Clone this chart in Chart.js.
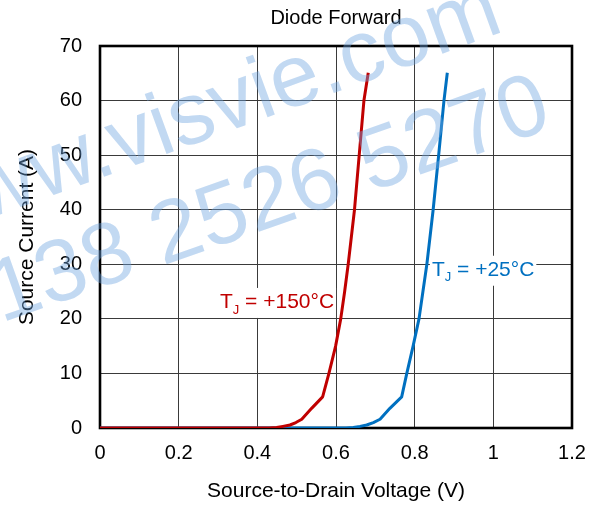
<!DOCTYPE html>
<html><head><meta charset="utf-8">
<script src="https://cdn.jsdelivr.net/npm/chart.js@4/dist/chart.umd.min.js"></script>
<style>html,body{margin:0;padding:0;background:#fff}#wrap{width:600px;height:508px;position:relative}</style>
</head><body><div id="wrap"><canvas id="c" width="600" height="508"></canvas></div>
<script>
const voltage150 = [0, 0.40, 0.430, 0.449, 0.465, 0.483, 0.498, 0.513, 0.538, 0.566, 0.582, 0.599, 0.612, 0.622, 0.631, 0.647, 0.659, 0.671, 0.682];
const current150 = [0, 0, 0.02, 0.1, 0.3, 0.55, 1.0, 1.6, 3.6, 5.7, 10, 15, 20, 25, 30, 40, 50, 60, 65.1];
const voltage25 = [0, 0.60, 0.625, 0.644, 0.661, 0.678, 0.695, 0.712, 0.737, 0.767, 0.780, 0.796, 0.811, 0.821, 0.831, 0.847, 0.861, 0.8745, 0.883];
const current25 = [0, 0, 0.02, 0.1, 0.3, 0.55, 1.0, 1.6, 3.6, 5.7, 10, 15, 20, 25, 30, 40, 50, 60, 65.1];
const xTicks = [0, 0.2, 0.4, 0.6, 0.8, 1, 1.2];
const yTicks = [0, 10, 20, 30, 40, 50, 60, 70];
const chartTitle = 'Diode Forward';
const xTitle = 'Source-to-Drain Voltage (V)';
const yTitle = 'Source Current (A)';
const label150 = ['T', 'J', ' = +150°C'];
const label25 = ['T', 'J', ' = +25°C'];
const watermark = ['www.visvie.com', '138 2526 5270'];

const FONT = "'Liberation Sans', Arial, sans-serif";
const RED = '#C00000', BLUE = '#0070C0';

function pts(xs, ys) { return xs.map((x, i) => ({x, y: ys[i]})); }

function drawLabel(ctx, parts, cx, cy, color) {
  ctx.save();
  const big = '21px ' + FONT, small = '13px ' + FONT;
  ctx.font = big; const w1 = ctx.measureText(parts[0]).width;
  ctx.font = small; const w2 = ctx.measureText(parts[1]).width;
  ctx.font = big; const w3 = ctx.measureText(parts[2]).width;
  const w = w1 + w2 + w3;
  let x = cx - w / 2;
  ctx.fillStyle = '#fff';
  ctx.fillRect(x - 2, cy - 14, w + 4, 30);
  ctx.fillStyle = color;
  ctx.textBaseline = 'middle';
  ctx.textAlign = 'left';
  ctx.font = big; ctx.fillText(parts[0], x, cy); x += w1;
  ctx.font = small; ctx.fillText(parts[1], x, cy + 8); x += w2;
  ctx.font = big; ctx.fillText(parts[2], x, cy);
  ctx.restore();
}

const deco = {
  id: 'deco',
  beforeDatasetsDraw(chart) {
    const ctx = chart.ctx, a = chart.chartArea;
    const xs = chart.scales.x, ys = chart.scales.y;
    ctx.save();
    ctx.strokeStyle = '#000';
    ctx.lineWidth = 2.6;
    ctx.strokeRect(a.left, a.top, a.right - a.left, a.bottom - a.top);
    ctx.restore();
    drawLabel(ctx, label150, xs.getPixelForValue(0.45), ys.getPixelForValue(23.1), RED);
    drawLabel(ctx, label25, xs.getPixelForValue(0.974), ys.getPixelForValue(29.0), BLUE);
  },
  afterDraw(chart) {
    const ctx = chart.ctx, a = chart.chartArea;
    ctx.save();
    ctx.fillStyle = '#000';
    ctx.font = '20px ' + FONT;
    ctx.textAlign = 'center';
    ctx.textBaseline = 'middle';
    ctx.fillText(chartTitle, (a.left + a.right) / 2, 18);
    ctx.restore();
    // watermark
    ctx.save();
    ctx.fillStyle = 'rgba(110,165,225,0.42)';
    ctx.font = '88px ' + FONT;
    ctx.textAlign = 'left';
    ctx.textBaseline = 'alphabetic';
    ctx.save();
    ctx.translate(-78, 243);
    ctx.rotate(-20 * Math.PI / 180);
    ctx.fillText(watermark[0], 0, 0);
    ctx.restore();
    ctx.save();
    ctx.translate(1, 323);
    ctx.rotate(-19.5 * Math.PI / 180);
    ctx.fillText(watermark[1], 0, 0);
    ctx.restore();
    ctx.restore();
  }
};

new Chart(document.getElementById('c'), {
  type: 'scatter',
  data: {
    datasets: [
      { data: pts(voltage25, current25), showLine: true, borderColor: BLUE, borderWidth: 3, pointRadius: 0, tension: 0, borderJoinStyle: 'round', order: 2 },
      { data: pts(voltage150, current150), showLine: true, borderColor: RED, borderWidth: 3, pointRadius: 0, tension: 0, borderJoinStyle: 'round', order: 1 }
    ]
  },
  options: {
    responsive: false,
    animation: false,
    devicePixelRatio: 1,
    layout: { padding: { top: 46, right: 28, left: 0, bottom: 0 } },
    plugins: { legend: { display: false }, title: { display: false }, tooltip: { enabled: false } },
    scales: {
      x: {
        type: 'linear', min: 0, max: 1.2,
        afterBuildTicks: s => { s.ticks = xTicks.map(v => ({ value: v })); },
        afterFit: s => { s.height = 80; },
        ticks: { color: '#000', font: { family: FONT, size: 20 }, padding: 13, maxRotation: 0, callback: v => String(v) },
        grid: { color: '#3a3a3a', lineWidth: 1, drawTicks: false },
        border: { display: false },
        title: { display: true, text: xTitle, color: '#000', font: { family: FONT, size: 21 }, padding: { top: 0, bottom: 4 } }
      },
      y: {
        type: 'linear', min: 0, max: 70,
        afterBuildTicks: s => { s.ticks = yTicks.map(v => ({ value: v })); },
        afterFit: s => { s.width = 100; },
        ticks: { color: '#000', font: { family: FONT, size: 20 }, padding: 18, callback: v => String(v) },
        grid: { color: '#3a3a3a', lineWidth: 1, drawTicks: false },
        border: { display: false },
        title: { display: true, text: yTitle, color: '#000', font: { family: FONT, size: 21 }, padding: { top: 15, bottom: 0 } }
      }
    }
  },
  plugins: [deco]
});
</script>
</body></html>
